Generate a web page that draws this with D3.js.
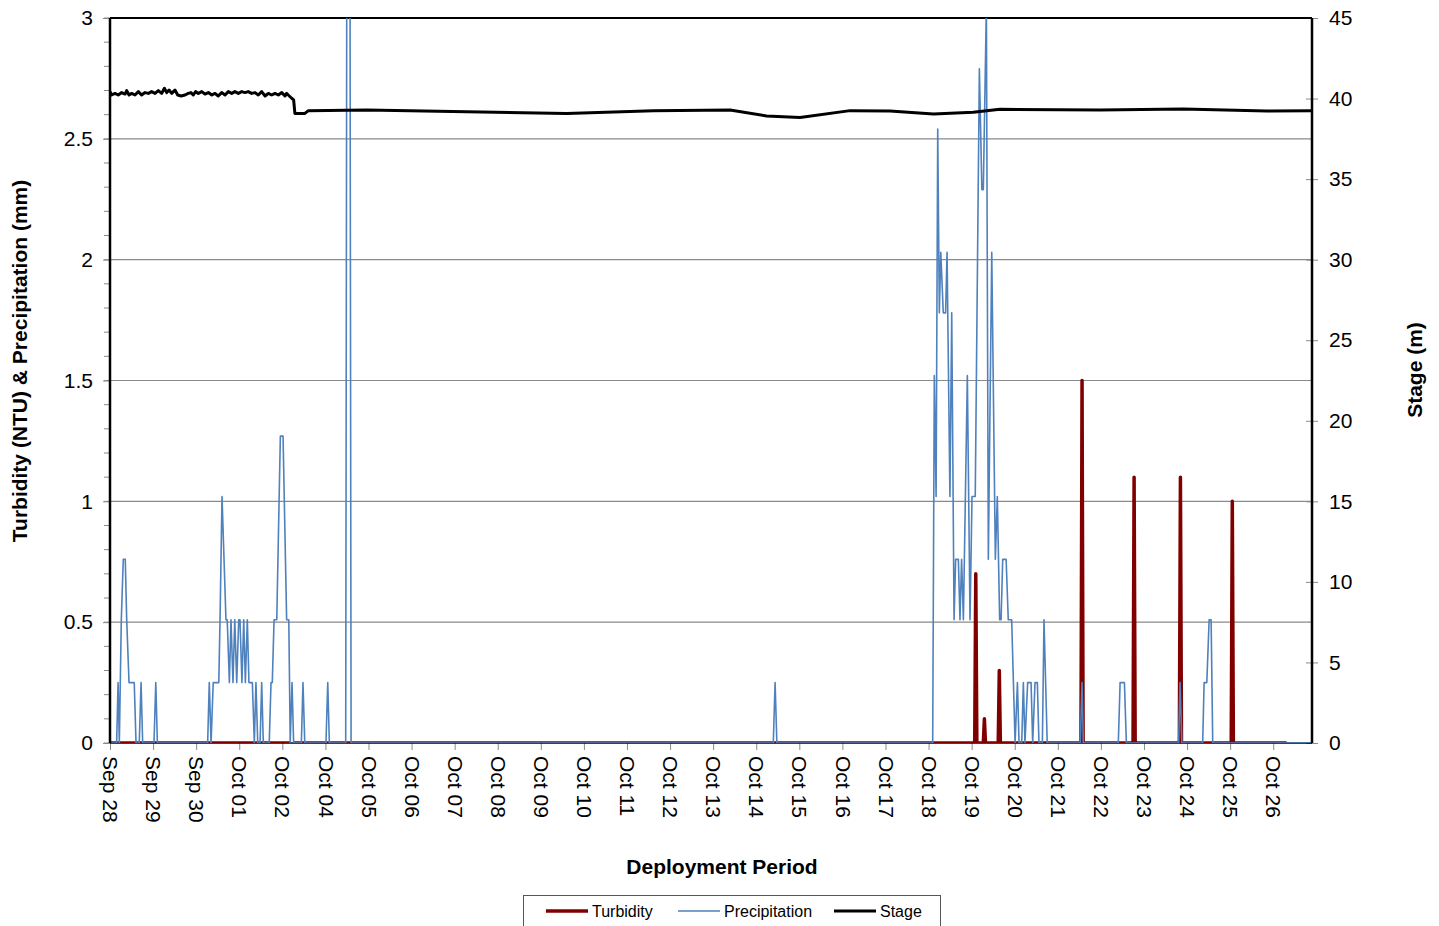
<!DOCTYPE html>
<html>
<head>
<meta charset="utf-8">
<script src="https://cdn.jsdelivr.net/npm/d3@7/dist/d3.min.js"></script>
<style>
  body { margin: 0; background: #fff; }
  svg { font-family: "Liberation Sans", Arial, sans-serif; }
</style>
</head>
<body>
<svg class="chart" width="1439" height="926"></svg>
<script>
// x positions are hours from the first reading (Sep 28)
var dayLabels = ["Sep 28", "Sep 29", "Sep 30", "Oct 01", "Oct 02", "Oct 04", "Oct 05", "Oct 06",
    "Oct 07", "Oct 08", "Oct 09", "Oct 10", "Oct 11", "Oct 12", "Oct 13", "Oct 14", "Oct 15",
    "Oct 16", "Oct 17", "Oct 18", "Oct 19", "Oct 20", "Oct 21", "Oct 22", "Oct 23", "Oct 24",
    "Oct 25", "Oct 26"];
var lastHour = 669.6;

var precipitation = [
    [0, 0], [3.7, 0], [4.5, 0.25], [5.2, 0], [6.3, 0.51], [7.4, 0.76], [8.5, 0.76], [9.3, 0.51],
    [10.6, 0.25], [13.5, 0.25], [14.5, 0], [16.3, 0], [17.3, 0.25], [18.2, 0], [24.5, 0],
    [25.5, 0.25], [26.4, 0], [54.4, 0], [55.3, 0.25], [56.3, 0], [57.5, 0.25], [60.6, 0.25],
    [61.3, 0.51], [62.4, 1.02], [64.6, 0.51], [65.3, 0.51], [66.5, 0.25], [67.4, 0.51],
    [68.5, 0.25], [69.5, 0.51], [70.6, 0.25], [71.7, 0.51], [72.4, 0.51], [73.5, 0.25],
    [74.5, 0.51], [75.4, 0.25], [76.5, 0.51], [77.4, 0.25], [79.3, 0.25], [80.4, 0], [81.3, 0.25],
    [82.3, 0], [83.6, 0], [84.5, 0.25], [85.4, 0], [88.7, 0], [89.7, 0.25], [90.4, 0.25],
    [91.4, 0.51], [92.9, 0.51], [94.9, 1.27], [96.4, 1.27], [98.4, 0.51], [99.6, 0.51],
    [100.4, 0], [101.4, 0.25], [102.3, 0], [106.6, 0], [107.5, 0.25], [108.5, 0], [120.3, 0],
    [121.3, 0.25], [122.2, 0], [131.3, 0], [132.3, 5.3], [133.3, 5.3], [134.3, 0],
    [369.5, 0], [370.5, 0.25], [371.5, 0],
    [458.3, 0], [459.2, 1.52], [460.2, 1.02], [461.1, 2.54], [462.0, 1.78], [462.8, 2.03],
    [464.2, 1.78], [465.5, 1.78], [466.3, 2.03], [467.9, 1.02], [468.9, 1.78], [470.2, 0.51],
    [471.1, 0.76], [472.6, 0.76], [473.5, 0.51], [474.4, 0.76], [475.4, 0.51], [477.6, 1.52],
    [479.1, 0.51], [480.2, 1.02], [482.0, 1.02], [484.3, 2.79], [485.7, 2.29], [486.5, 2.29],
    [488.2, 3.05], [489.3, 0.76], [491.2, 2.03], [493.2, 0.76], [494.3, 1.02], [495.6, 0.51],
    [496.4, 0.51], [497.3, 0.76], [499.2, 0.76], [500.4, 0.51], [502.3, 0.51], [504.2, 0],
    [505.5, 0.25], [506.4, 0], [507.9, 0], [508.8, 0.25], [509.7, 0], [511.2, 0.25],
    [513.1, 0.25], [514.0, 0], [515.3, 0.25], [516.6, 0.25], [517.5, 0], [519.4, 0],
    [520.3, 0.51], [522.1, 0], [540.5, 0], [541.5, 0.25], [542.2, 0], [561.7, 0], [562.7, 0.25],
    [565.1, 0.25], [566.2, 0], [595.3, 0], [596.1, 0.25], [597.1, 0], [608.7, 0], [609.5, 0.25],
    [611.0, 0.25], [612.3, 0.51], [613.4, 0.51], [614.3, 0], [669.6, 0]
];

// null marks a short gap in the turbidity record
var turbidity = [
    [0, 0], [100.5, 0], [100.6, null], [102.4, null], [102.5, 0],
    [481.7, 0], [482.3, 0.7], [482.9, 0], [486.5, 0], [487.1, 0.1], [487.7, 0],
    [494.8, 0], [495.4, 0.3], [496.0, 0], [540.9, 0], [541.5, 1.5], [542.1, 0],
    [569.9, 0], [570.5, 1.1], [571.1, 0], [595.7, 0], [596.3, 1.1], [596.9, 0],
    [624.6, 0], [625.2, 1.0], [625.8, 0], [655.5, 0]
];

var stage = [
    [0, 40.43], [0.9, 40.22], [2.8, 40.32], [4.6, 40.22], [6.5, 40.37], [8.4, 40.28],
    [9.3, 40.49], [10.6, 40.22], [12.1, 40.32], [13.9, 40.22], [15.8, 40.43], [17.6, 40.22],
    [19.5, 40.37], [21.4, 40.32], [23.2, 40.43], [25.1, 40.32], [26.9, 40.49], [28.8, 40.32],
    [30.3, 40.64], [31.6, 40.37], [32.9, 40.53], [34.4, 40.32], [36.2, 40.53], [37.7, 40.22],
    [39.6, 40.16], [41.8, 40.22], [43.6, 40.32], [45.1, 40.37], [46.4, 40.22], [47.7, 40.43],
    [49.2, 40.32], [51.1, 40.43], [52.9, 40.28], [54.8, 40.37], [56.7, 40.22], [58.5, 40.32],
    [60.3, 40.16], [62.2, 40.37], [64.1, 40.22], [65.9, 40.43], [67.8, 40.32], [69.6, 40.43],
    [71.5, 40.32], [73.4, 40.43], [75.2, 40.37], [77.0, 40.43], [78.9, 40.32], [80.8, 40.37],
    [82.6, 40.22], [84.5, 40.43], [86.4, 40.16], [88.2, 40.32], [90.1, 40.22], [91.9, 40.32],
    [93.8, 40.22], [95.7, 40.37], [97.5, 40.16], [98.4, 40.32], [99.3, 40.22], [101.2, 40.02],
    [102.3, 39.92], [103.0, 39.08], [108.6, 39.08], [110.5, 39.25], [143, 39.29],
    [198.7, 39.18], [254.4, 39.08], [302.7, 39.25], [345.4, 39.29], [365.8, 38.92],
    [384.4, 38.82], [412.3, 39.25], [434.5, 39.23], [458.7, 39.04], [480.9, 39.15],
    [495.8, 39.33], [551.5, 39.29], [597.9, 39.35], [644.4, 39.23], [669.6, 39.25]
];

var leftTicks = [0, 0.5, 1, 1.5, 2, 2.5, 3];
var rightTicks = [0, 5, 10, 15, 20, 25, 30, 35, 40, 45];

var svg = d3.select(".chart");
var margin = {top: 18, right: 127, bottom: 183, left: 110};
var width = +svg.attr("width") - margin.left - margin.right;
var height = +svg.attr("height") - margin.top - margin.bottom;

var xScale = d3.scaleLinear().domain([0, lastHour]).range([0, width]);
var yLeft = d3.scaleLinear().domain([0, 3]).range([height, 0]);
var yRight = d3.scaleLinear().domain([0, 45]).range([height, 0]);

var g = svg.append("g")
    .attr("transform", "translate(" + margin.left + "," + margin.top + ")");

svg.append("defs").append("clipPath").attr("id", "plotclip")
  .append("rect").attr("x", 0).attr("y", 0).attr("width", width).attr("height", height);

// gridlines
g.append("g")
    .selectAll("line")
    .data(leftTicks.filter(function (d) { return d > 0 && d < 3; }))
    .enter().append("line")
      .attr("x1", 0).attr("x2", width)
      .attr("y1", function (d) { return yLeft(d); })
      .attr("y2", function (d) { return yLeft(d); })
      .attr("stroke", "#8a8a8a").attr("stroke-width", 1.2);

// left minor ticks
g.append("g")
    .selectAll("line")
    .data(d3.range(0, 31).map(function (i) { return i / 10; }))
    .enter().append("line")
      .attr("x1", -6).attr("x2", 0)
      .attr("y1", function (d) { return yLeft(d); })
      .attr("y2", function (d) { return yLeft(d); })
      .attr("stroke", "#8a8a8a").attr("stroke-width", 1);

var leftAxis = g.append("g")
    .call(d3.axisLeft(yLeft).tickValues(leftTicks).tickSize(7).tickSizeOuter(0)
        .tickFormat(function (d) { return String(d); }));
leftAxis.select(".domain").remove();
leftAxis.selectAll("line").attr("stroke", "#8a8a8a");
leftAxis.selectAll("text").attr("x", -17).style("font-size", "21px").attr("fill", "#000");

var rightAxis = g.append("g")
    .attr("transform", "translate(" + width + ",0)")
    .call(d3.axisRight(yRight).tickValues(rightTicks).tickSize(6).tickSizeOuter(0));
rightAxis.select(".domain").remove();
rightAxis.selectAll("line").attr("x1", -6).attr("stroke", "#8a8a8a");
rightAxis.selectAll("text").attr("x", 17).style("font-size", "21px").attr("fill", "#000");

var xAxis = g.append("g")
    .attr("transform", "translate(0," + height + ")")
    .call(d3.axisBottom(xScale)
        .tickValues(dayLabels.map(function (d, i) { return i * 24; }))
        .tickSize(7).tickSizeOuter(0)
        .tickFormat(function (d) { return dayLabels[d / 24]; }));
xAxis.select(".domain").remove();
xAxis.selectAll("line").attr("stroke", "#8a8a8a");
xAxis.selectAll("text")
    .attr("transform", "rotate(90)")
    .attr("x", 13).attr("y", 0).attr("dy", "0.35em")
    .attr("text-anchor", "start")
    .style("font-size", "21px").attr("fill", "#000");

// frame
g.append("line").attr("x1", 0).attr("x2", width).attr("y1", height).attr("y2", height)
    .attr("stroke", "#000").attr("stroke-width", 1.5);
g.append("line").attr("x1", 0).attr("x2", width).attr("y1", 0).attr("y2", 0)
    .attr("stroke", "#000").attr("stroke-width", 2);

// series
var plot = g.append("g").attr("clip-path", "url(#plotclip)");

var turbLine = d3.line()
    .defined(function (d) { return d[1] !== null; })
    .x(function (d) { return xScale(d[0]); })
    .y(function (d) { return yLeft(d[1]); });
var precipLine = d3.line()
    .x(function (d) { return xScale(d[0]); })
    .y(function (d) { return yLeft(d[1]); });
var stageLine = d3.line()
    .x(function (d) { return xScale(d[0]); })
    .y(function (d) { return yRight(d[1]); });

plot.append("path").datum(turbidity)
    .attr("d", turbLine).attr("fill", "none")
    .attr("stroke", "#800000").attr("stroke-width", 3.5).attr("stroke-linejoin", "round");
plot.append("path").datum(precipitation)
    .attr("d", precipLine).attr("fill", "none")
    .attr("stroke", "#4f81bd").attr("stroke-width", 1.6).attr("stroke-linejoin", "round");
plot.append("path").datum(stage)
    .attr("d", stageLine).attr("fill", "none")
    .attr("stroke", "#000").attr("stroke-width", 3).attr("stroke-linejoin", "round");

g.append("line").attr("x1", 0).attr("x2", 0).attr("y1", 0).attr("y2", height)
    .attr("stroke", "#000").attr("stroke-width", 2.5);
g.append("line").attr("x1", width).attr("x2", width).attr("y1", 0).attr("y2", height)
    .attr("stroke", "#000").attr("stroke-width", 2.5);

// titles
svg.append("text")
    .attr("transform", "translate(27,361) rotate(-90)")
    .attr("text-anchor", "middle")
    .style("font-size", "21px").style("font-weight", "bold")
    .text("Turbidity (NTU) & Precipitation (mm)");
svg.append("text")
    .attr("transform", "translate(1422,370) rotate(-90)")
    .attr("text-anchor", "middle")
    .style("font-size", "21px").style("font-weight", "bold")
    .text("Stage (m)");
svg.append("text")
    .attr("x", 722).attr("y", 874)
    .attr("text-anchor", "middle")
    .style("font-size", "21px").style("font-weight", "bold")
    .text("Deployment Period");

// legend
var legendItems = [
    {name: "Turbidity", color: "#800000", width: 3.5, x: 546},
    {name: "Precipitation", color: "#4f81bd", width: 1.6, x: 678},
    {name: "Stage", color: "#000", width: 3, x: 834}
];
svg.append("rect")
    .attr("x", 523.5).attr("y", 895.5).attr("width", 417).attr("height", 34)
    .attr("fill", "#fff").attr("stroke", "#555").attr("stroke-width", 1);
var legend = svg.selectAll(".legend")
    .data(legendItems)
    .enter().append("g")
      .attr("class", "legend")
      .attr("transform", function (d) { return "translate(" + d.x + ",911)"; });
legend.append("line")
    .attr("x1", 0).attr("x2", 42)
    .attr("stroke", function (d) { return d.color; })
    .attr("stroke-width", function (d) { return d.width; });
legend.append("text")
    .attr("x", 46).attr("dy", "0.35em")
    .style("font-size", "16px")
    .text(function (d) { return d.name; });
</script>
</body>
</html>
